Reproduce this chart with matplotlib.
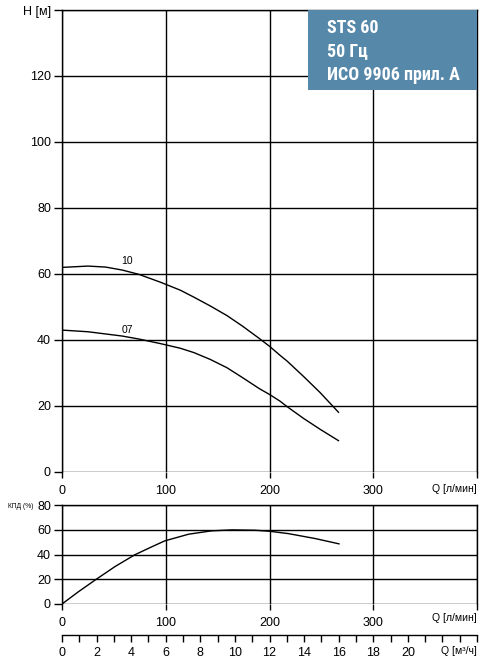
import matplotlib
matplotlib.use("Agg")
import matplotlib.pyplot as plt
from matplotlib.patches import Rectangle

plt.rcParams["font.family"] = ["Liberation Sans", "DejaVu Sans"]

# head curves, Q [л/мин] -> H [м]
q_10 = [0, 25, 42, 58, 74, 95, 114, 127, 143, 159, 174, 190, 200, 210, 217, 233, 249, 266.5]
h_10 = [62.0, 62.4, 62.1, 61.2, 59.9, 57.5, 55.1, 53.0, 50.3, 47.4, 44.2, 40.5, 38.1,
        35.4, 33.6, 28.9, 24.0, 18.1]
q_07 = [0, 25, 58, 74, 95, 114, 127, 143, 159, 174, 190, 200, 210, 217, 233, 249, 266.5]
h_07 = [43.0, 42.5, 41.2, 40.3, 38.9, 37.5, 36.2, 34.1, 31.6, 28.6, 25.3, 23.5, 21.5,
        19.8, 16.2, 12.9, 9.5]

# efficiency curve
q_eff = [0, 16, 32, 51, 70, 87, 99, 122, 144, 164, 186, 200, 218, 244, 267]
eff = [0, 10, 19.4, 30.2, 39.7, 46.4, 51, 56.4, 59.1, 59.9, 59.6, 58.8, 56.9, 52.9, 48.6]

h_ticks = [0, 20, 40, 60, 80, 100, 120, 140]
h_labels = ["0", "20", "40", "60", "80", "100", "120", "H [м]"]
q_ticks = [0, 100, 200, 300, 400]
q_labels = ["0", "100", "200", "300", ""]
eff_ticks = [0, 20, 40, 60, 80]
m3_ticks = list(range(0, 25))
m3_labels = [str(v) if v % 2 == 0 and v <= 20 else "" for v in m3_ticks]
title_lines = ["STS 60", "50 Гц", "ИСО 9906 прил. A"]

W, H = 483, 662
fig = plt.figure(figsize=(W / 100, H / 100), dpi=100)


def frac(x0, y0, x1, y1):
    return [x0 / W, 1 - y1 / H, (x1 - x0) / W, (y1 - y0) / H]


def style(ax, yticks, ylabels):
    ax.set_xlim(0, 400)
    ax.set_xticks(q_ticks)
    ax.set_xticklabels(q_labels)
    ax.set_yticks(yticks)
    ax.set_yticklabels(ylabels)
    ax.grid(True, color="black", lw=1.0)
    ax.spines["bottom"].set_visible(False)
    for k in ["left", "top", "right"]:
        ax.spines[k].set_linewidth(1.0)
    ax.tick_params(axis="y", length=6, width=1.0, pad=2, labelsize=9)
    ax.tick_params(axis="x", length=4, width=1.0, pad=5, labelsize=9)
    ax.set_axisbelow(True)


# top: head
ax1 = fig.add_axes(frac(62, 10, 477, 472))
ax1.set_ylim(0, 140)
style(ax1, h_ticks, h_labels)
ax1.plot(q_10, h_10, color="black", lw=1.0)
ax1.plot(q_07, h_07, color="black", lw=1.0)
ax1.text(62.7, 63.8, "10", fontsize=7.5, ha="center", va="center")
ax1.text(62.7, 43.0, "07", fontsize=7.5, ha="center", va="center")
ax1.text(400, -3.6, "Q [л/мин]", fontsize=7.5, ha="right", va="top")

# title box
ax1.add_patch(Rectangle((237.2, 115.8), 162.8, 24.2, facecolor="#5688aa",
                        edgecolor="none", zorder=3, clip_on=False))
for i, t in enumerate(title_lines):
    ax1.text(255.5, 134.4 - i * 7.0, t, color="white", fontsize=13,
             fontweight="bold", va="center", ha="left", zorder=4,
             family=["Liberation Sans Narrow", "Roboto Condensed",
                     "DejaVu Sans Condensed", "Liberation Sans"])

# bottom: efficiency
ax2 = fig.add_axes(frac(62, 505, 477, 604))
ax2.set_ylim(0, 80)
style(ax2, eff_ticks, [str(v) for v in eff_ticks])
ax2.plot(q_eff, eff, color="black", lw=1.0)
ax2.text(400, -7, "Q [л/мин]", fontsize=7.5, ha="right", va="top")
fig.text(33 / W, 1 - 506 / H, "КПД (%)", fontsize=4.8, ha="right", va="center")

# m3/h scale
ax3 = fig.add_axes(frac(62, 634, 477, 634.5))
ax3.set_xlim(0, 24)
ax3.set_ylim(0, 1)
ax3.set_yticks([])
for k in ["left", "right", "top"]:
    ax3.spines[k].set_visible(False)
ax3.spines["bottom"].set_linewidth(1.0)
ax3.set_xticks(m3_ticks)
ax3.set_xticklabels(m3_labels)
ax3.tick_params(axis="x", length=5, width=1.0, pad=4, labelsize=9)
ax3.annotate("Q [м³/ч]", xy=(24, 0), xycoords=("data", "axes fraction"),
             xytext=(0, -8.5), textcoords="offset points",
             fontsize=7.5, ha="right", va="top")
ax3.patch.set_visible(False)

fig.savefig("out.png", dpi=100)
